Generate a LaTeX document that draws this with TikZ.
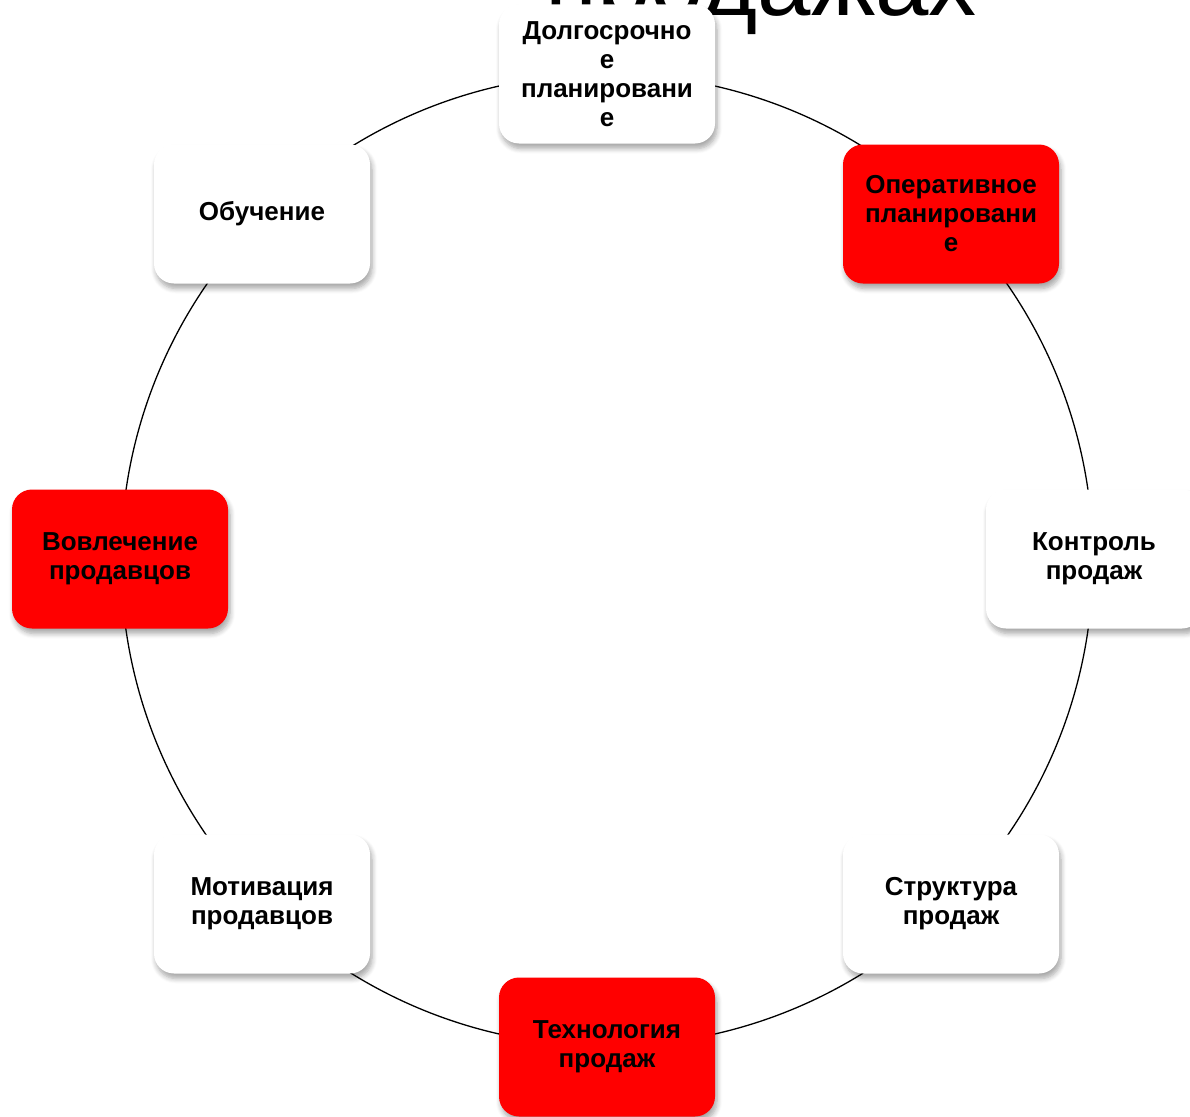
\documentclass[tikz,border=0pt]{standalone}
\usepackage{fontspec}
\setmainfont{Liberation Sans}
\usetikzlibrary{shadows.blur}
\definecolor{boxred}{RGB}{255,0,0}
\tikzset{
  card/.style={rounded corners=20pt, minimum width=216pt, minimum height=139pt,
    align=center, inner sep=4pt,
    font=\bfseries\fontsize{26}{29}\selectfont,
    blur shadow={shadow xshift=2pt, shadow yshift=-5pt, shadow blur radius=5pt, shadow blur steps=6, shadow opacity=35}},
  whitecard/.style={card, fill=white},
  redcard/.style={card, fill=boxred},
  ring/.style={draw=black, line width=1.3pt}
}
\begin{document}
\begin{tikzpicture}[x=1pt,y=-1pt]
\useasboundingbox (0,0) rectangle (1190,1116);
\begin{scope}
\clip (0,0) rectangle (1190,1116);
\node[anchor=base east, inner sep=0pt, font=\fontsize{96}{110}\selectfont] (title) at (977,16) {продажах};
\coordinate (c) at (607,560);
\draw[ring] (c) circle[radius=486pt];
\node[whitecard] (dolg) at (607,74) {Долгосрочно\\е\\планировани\\е};
\node[redcard] (oper) at (951,214) {Оперативное\\планировани\\е};
\node[whitecard] (kontr) at (1094,559) {Контроль\\продаж};
\node[whitecard] (strukt) at (951,904) {Структура\\продаж};
\node[redcard] (tehn) at (607,1047) {Технология\\продаж};
\node[whitecard] (motiv) at (262,904) {Мотивация\\продавцов};
\node[redcard] (vovl) at (120,559) {Вовлечение\\продавцов};
\node[whitecard] (obuch) at (262,214) {Обучение};
\end{scope}
\end{tikzpicture}
\end{document}
